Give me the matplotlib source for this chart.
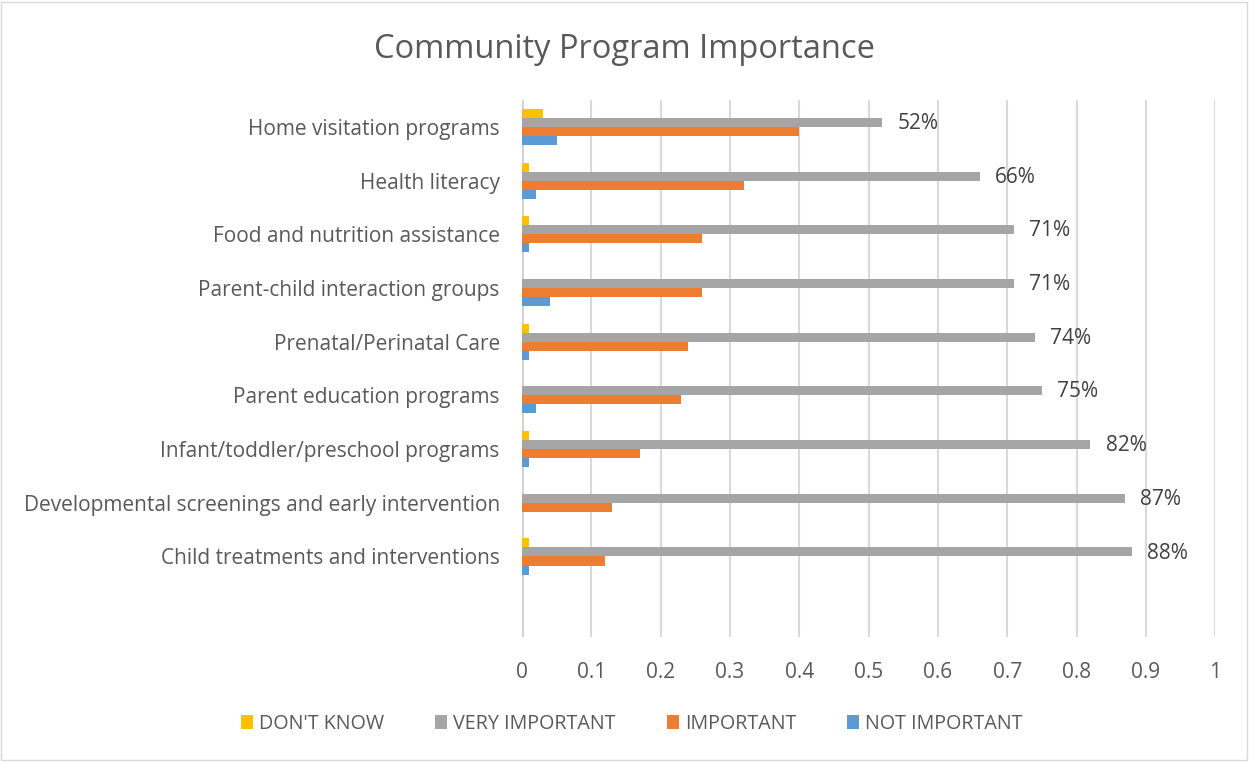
import matplotlib
matplotlib.use("Agg")
import matplotlib.pyplot as plt
import numpy as np
from matplotlib.patches import Rectangle

categories = ["Home visitation programs", "Health literacy", "Food and nutrition assistance",
              "Parent-child interaction groups", "Prenatal/Perinatal Care", "Parent education programs",
              "Infant/toddler/preschool programs", "Developmental screenings and early intervention",
              "Child treatments and interventions"]
dont_know = [0.03, 0.01, 0.01, 0.0, 0.01, 0.0, 0.01, 0.0, 0.01]
very_important = [0.52, 0.66, 0.71, 0.71, 0.74, 0.75, 0.82, 0.87, 0.88]
important = [0.40, 0.32, 0.26, 0.26, 0.24, 0.23, 0.17, 0.13, 0.12]
not_important = [0.05, 0.02, 0.01, 0.04, 0.01, 0.02, 0.01, 0.0, 0.01]
series_names = ["DON'T KNOW", "VERY IMPORTANT", "IMPORTANT", "NOT IMPORTANT"]
colors = ["#FFC000", "#A5A5A5", "#ED7D31", "#5B9BD5"]

plt.rcParams['font.family'] = ['Open Sans', 'DejaVu Sans']
fig = plt.figure(figsize=(12.49, 7.62), dpi=100)
ax = fig.add_axes([0.418, 0.164, 0.5549, 0.7047])

n = len(categories)
y = np.arange(n)
h = 0.168
series = [dont_know, very_important, important, not_important]
offsets = [-1.5 * h, -0.5 * h, 0.5 * h, 1.5 * h]
for vals, col, off, name in zip(series, colors, offsets, series_names):
    bars = ax.barh(y + off, vals, height=h, color=col, label=name, zorder=3)
    if name == "VERY IMPORTANT":
        for b, v in zip(bars, vals):
            ax.text(v + 0.022, b.get_y() + b.get_height() / 2 + 0.02, f"{round(v*100)}%",
                    va='center', ha='left', fontsize=15, color='#404040')

ax.set_ylim(n + 0.5, -0.5)
ax.set_xlim(0, 1)
ax.set_xticks(np.arange(0, 1.01, 0.1))
ax.set_xticklabels(["0", "0.1", "0.2", "0.3", "0.4", "0.5", "0.6", "0.7", "0.8", "0.9", "1"])
ax.set_yticks(y)
ax.set_yticklabels(categories)
ax.tick_params(axis='both', length=0, labelsize=15, colors='#595959')
ax.tick_params(axis='x', pad=18)
ax.tick_params(axis='y', pad=16)
ax.grid(axis='x', color='#d9d9d9', linewidth=1.5, zorder=0)
for s in ax.spines.values():
    s.set_visible(False)
ax.axvline(0, color='#d0d0d0', linewidth=2, zorder=2)

fig.text(0.5, 0.935, "Community Program Importance", ha='center', va='center',
         fontsize=23.5, color='#595959')

fig.legend(loc='center', bbox_to_anchor=(0.506, 0.05), ncol=4, frameon=False,
           fontsize=14.2, handlelength=0.6, handleheight=0.7, columnspacing=2.6,
           handletextpad=0.3, labelcolor='#595959')

fig.patches.append(Rectangle((0.001, 0.002), 0.997, 0.996, transform=fig.transFigure,
                             fill=False, edgecolor='#d9d9d9', linewidth=1))
fig.savefig("out.png", dpi=100)
